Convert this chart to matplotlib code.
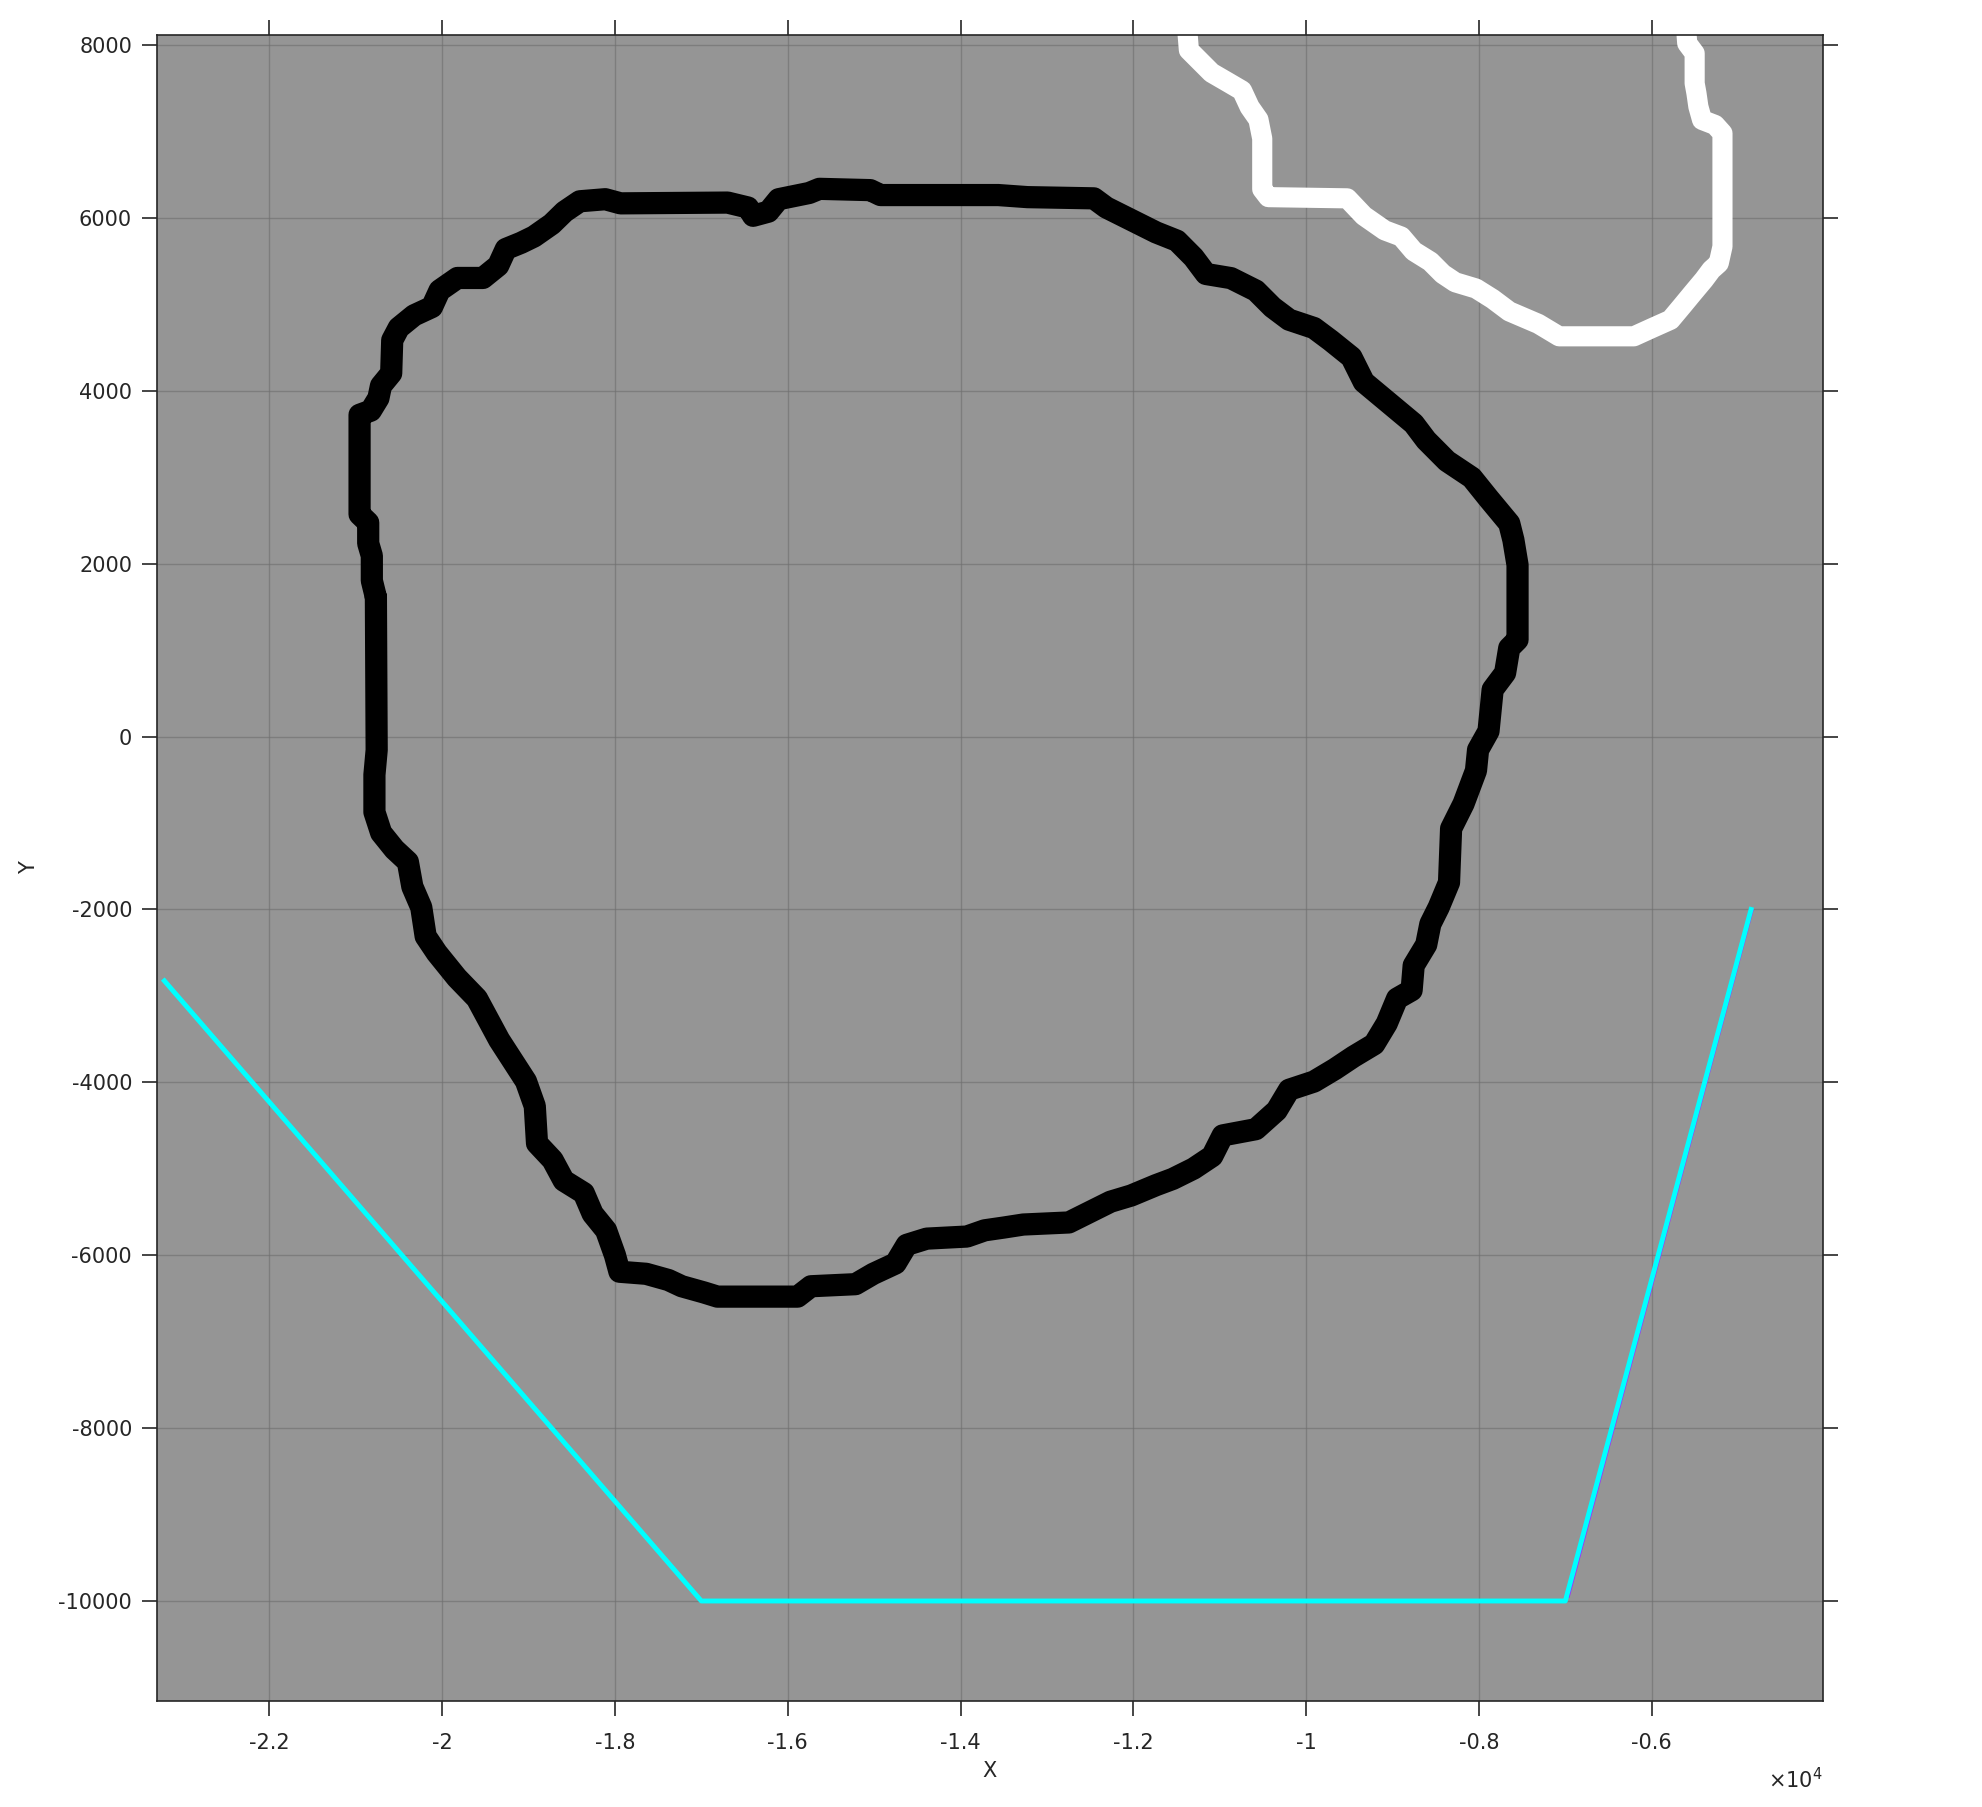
import matplotlib
matplotlib.use("Agg")
import matplotlib.pyplot as plt

# black contour (closed)
black_x = [-20767, -20814, -20814, -20856, -20856, -20956, -20956, -20826, -20738, -20708,
           -20590, -20578, -20502, -20325, -20118, -20030, -19823, -19528, -19351, -19263,
           -19086, -18938, -18732, -18584, -18407, -18112, -17935, -16696, -16460, -16401,
           -16224, -16106, -15752, -15634, -15044, -14926, -13563, -13226, -12457, -12313,
           -12024, -11736, -11495, -11303, -11159, -10870, -10582, -10389, -10197, -9909,
           -9716, -9476, -9332, -9043, -8755, -8610, -8370, -8082, -7889, -7649,
           -7601, -7553, -7553, -7649, -7697, -7841, -7889, -8010, -8034, -8178,
           -8322, -8346, -8466, -8562, -8610, -8755, -8779, -8947, -9067, -9212,
           -9452, -9668, -9909, -10197, -10341, -10582, -10966, -11087, -11303, -11543,
           -11736, -12024, -12264, -12457, -12746, -13274, -13500, -13721, -13927, -14391,
           -14623, -14752, -15010, -15216, -15731, -15886, -16814, -16969, -17227, -17381,
           -17639, -17948, -18000, -18103, -18258, -18361, -18593, -18722, -18902, -18928,
           -19030, -19185, -19340, -19469, -19598, -19830, -20062, -20191, -20242, -20345,
           -20397, -20552, -20706, -20784, -20784, -20758, -20767]
black_y = [1612, 1804, 2091, 2235, 2475, 2571, 3722, 3770, 3914, 4058,
           4202, 4585, 4729, 4873, 4969, 5161, 5305, 5305, 5448, 5640,
           5712, 5784, 5928, 6072, 6192, 6216, 6168, 6177, 6120, 6024,
           6072, 6216, 6288, 6336, 6321, 6264, 6264, 6240, 6226, 6120,
           5976, 5832, 5736, 5543, 5351, 5303, 5159, 4966, 4822, 4726,
           4582, 4389, 4101, 3860, 3620, 3428, 3187, 2995, 2755, 2466,
           2274, 1985, 1120, 1024, 735, 543, 62, -154, -394, -777,
           -1065, -1688, -1976, -2168, -2408, -2648, -2935, -3031, -3319, -3559,
           -3703, -3847, -3991, -4086, -4326, -4542, -4614, -4854, -4998, -5117,
           -5189, -5309, -5381, -5477, -5621, -5645, -5680, -5712, -5784, -5808,
           -5880, -6095, -6215, -6335, -6359, -6479, -6479, -6431, -6359, -6287,
           -6215, -6191, -6000, -5712, -5521, -5281, -5137, -4898, -4706, -4275,
           -3988, -3748, -3509, -3269, -3030, -2790, -2503, -2311, -1976, -1737,
           -1449, -1305, -1114, -874, -443, -156, 1612]

# white contour (runs off the top)
white_x = [-11386, -11357, -11240, -11094, -10918, -10742, -10654, -10552, -10508, -10508,
           -10437, -9524, -9332, -9091, -8899, -8755, -8562, -8418, -8274, -8034,
           -7841, -7649, -7312, -7072, -6206, -5997, -5782, -5653, -5525, -5396,
           -5310, -5224, -5181, -5181, -5267, -5417, -5460, -5482, -5503, -5503,
           -5589, -5610]
white_y = [8300, 7941, 7824, 7678, 7576, 7473, 7283, 7137, 6917, 6332,
           6240, 6226, 6024, 5856, 5784, 5615, 5495, 5351, 5255, 5183,
           5062, 4918, 4774, 4630, 4630, 4725, 4821, 4975, 5130, 5284,
           5399, 5476, 5669, 6979, 7075, 7133, 7287, 7441, 7557, 7904,
           8019, 8300]

# boundary lines
purple_x = [-6960, -4830]
purple_y = [-9950, -2000]
cyan_x = [-23215, -17000, -7000, -4850]
cyan_y = [-2826, -10000, -10000, -2000]

xticks = [-22000, -20000, -18000, -16000, -14000, -12000, -10000, -8000, -6000]
xtick_labels = ['-2.2', '-2', '-1.8', '-1.6', '-1.4', '-1.2', '-1', '-0.8', '-0.6']
yticks = [-10000, -8000, -6000, -4000, -2000, 0, 2000, 4000, 6000, 8000]
ytick_labels = ['-10000', '-8000', '-6000', '-4000', '-2000', '0', '2000', '4000', '6000', '8000']

fig = plt.figure(figsize=(19.83, 18.07), dpi=100)
ax = fig.add_axes([0.0792, 0.0587, 0.840, 0.922])
ax.set_facecolor('#959595')

ax.plot(black_x, black_y, color='black', linewidth=16,
        solid_joinstyle='round', solid_capstyle='round')
ax.plot(white_x, white_y, color='white', linewidth=14.5,
        solid_joinstyle='round', solid_capstyle='butt')
ax.plot(purple_x, purple_y, color='#9b30ff', linewidth=1.5)
ax.plot(cyan_x, cyan_y, color='cyan', linewidth=3.5)

ax.set_xlim(-23300, -4020)
ax.set_ylim(-11156, 8117)

ax.set_xticks(xticks)
ax.set_xticklabels(xtick_labels)
ax.set_yticks(yticks)
ax.set_yticklabels(ytick_labels)
ax.grid(True, color='#6e6e6e', linewidth=1.0, alpha=0.6)
ax.tick_params(axis='both', direction='out', length=11, width=1.2, color='#262626',
               labelsize=15, labelcolor='#262626', top=True, right=True)
ax.tick_params(axis='x', pad=12)
ax.tick_params(axis='y', pad=7)
for s in ax.spines.values():
    s.set_color('#262626')
    s.set_linewidth(1.2)

ax.set_xlabel('X', fontsize=15, color='#262626', labelpad=6)
ax.set_ylabel('Y', fontsize=15, color='#262626', labelpad=14)
fig.text(0.919, 0.015, r'$\times10^{4}$', ha='right', va='center', fontsize=15, color='#262626')

fig.savefig('out.png', dpi=100)
